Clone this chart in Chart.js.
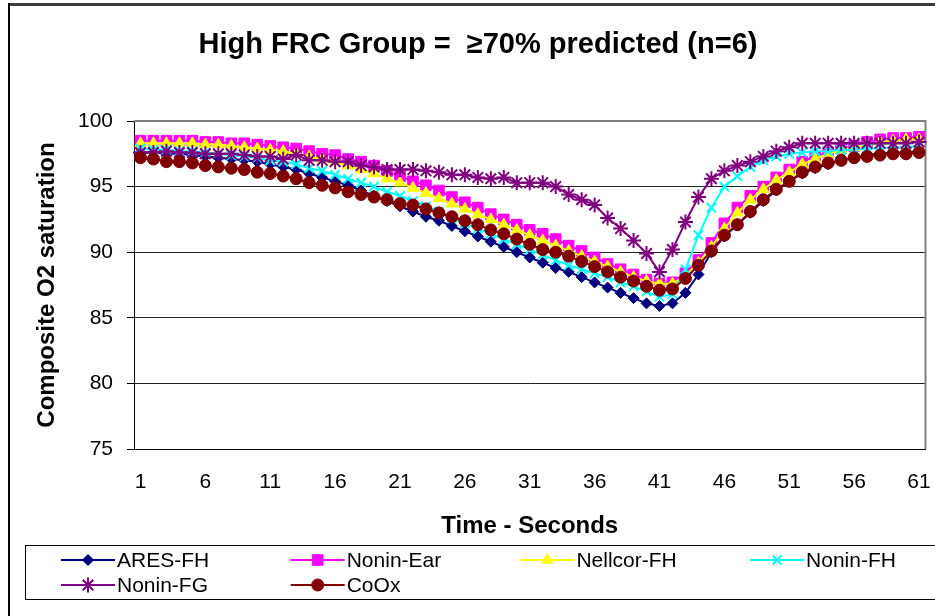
<!DOCTYPE html>
<html>
<head>
<meta charset="utf-8">
<script src="https://cdn.jsdelivr.net/npm/chart.js@4.4.1/dist/chart.umd.min.js"></script>
<style>
  html, body { margin: 0; padding: 0; background: #fff; }
  #wrap { position: relative; width: 935px; height: 616px; }
</style>
</head>
<body>
<div id="wrap"><canvas id="chart"></canvas></div>
<script>
// time axis, 1..61 s
const seconds = Array.from({ length: 61 }, (_, i) => String(i + 1))
const yTicks = [75, 80, 85, 90, 95, 100]
const chartTitle = "High FRC Group =  \u226570% predicted (n=6)"

const aresFH = [
	97.6, 97.6, 97.5, 97.5, 97.4, 97.3, 97.2, 97.1, 97.0, 96.9,
	96.7, 96.5, 96.3, 96.0, 95.7, 95.4, 95.1, 94.7, 94.3, 93.9,
	93.5, 93.1, 92.7, 92.4, 92.0, 91.6, 91.2, 90.8, 90.4, 90.0,
	89.6, 89.2, 88.8, 88.5, 88.1, 87.7, 87.3, 86.9, 86.5, 86.1,
	85.9, 86.1, 86.9, 88.3, 90.0, 91.2, 92.1, 93.0, 93.9, 94.7,
	95.4, 96.0, 96.4, 96.7, 97.0, 97.2, 97.4, 97.5, 97.6, 97.6, 97.7,
]
const noninEar = [
	98.5, 98.5, 98.5, 98.5, 98.5, 98.4, 98.4, 98.3, 98.3, 98.2,
	98.1, 98.0, 97.9, 97.7, 97.5, 97.4, 97.1, 96.9, 96.6, 96.2,
	95.8, 95.4, 95.1, 94.7, 94.2, 93.8, 93.4, 92.9, 92.5, 92.1,
	91.7, 91.4, 91.0, 90.5, 90.1, 89.6, 89.1, 88.7, 88.3, 87.9,
	87.6, 87.7, 88.4, 89.4, 90.7, 92.2, 93.4, 94.3, 95.0, 95.7,
	96.3, 96.9, 97.3, 97.6, 97.9, 98.1, 98.4, 98.6, 98.7, 98.7, 98.8,
]
const nellcorFH = [
	98.3, 98.3, 98.3, 98.3, 98.3, 98.2, 98.2, 98.1, 98.0, 97.9,
	97.8, 97.7, 97.5, 97.3, 97.1, 96.9, 96.6, 96.3, 96.0, 95.6,
	95.3, 94.9, 94.5, 94.1, 93.7, 93.3, 92.9, 92.5, 92.1, 91.7,
	91.3, 90.9, 90.5, 90.1, 89.7, 89.3, 88.9, 88.5, 88.1, 87.8,
	87.6, 87.6, 88.2, 89.2, 90.4, 91.8, 93.0, 94.0, 94.8, 95.5,
	96.1, 96.7, 97.1, 97.5, 97.8, 98.0, 98.2, 98.4, 98.5, 98.6, 98.6,
]
const noninFH = [
	97.9, 97.8, 97.8, 97.7, 97.7, 97.6, 97.5, 97.4, 97.3, 97.2,
	97.0, 96.9, 96.7, 96.4, 96.2, 95.9, 95.6, 95.3, 95.0, 94.6,
	94.3, 93.9, 93.5, 93.1, 92.6, 92.2, 91.8, 91.4, 91.0, 90.6,
	90.2, 89.8, 89.4, 89.0, 88.7, 88.4, 88.1, 87.7, 87.4, 87.0,
	86.6, 86.8, 88.7, 91.3, 93.4, 95.0, 95.8, 96.5, 97.0, 97.3,
	97.5, 97.6, 97.7, 97.7, 97.8, 97.8, 97.9, 97.9, 98.0, 98.0, 98.1,
]
const noninFG = [
	97.6, 97.6, 97.7, 97.6, 97.6, 97.5, 97.5, 97.5, 97.4, 97.3,
	97.3, 97.1, 97.4, 97.0, 97.0, 96.9, 96.9, 96.6, 96.5, 96.3,
	96.3, 96.3, 96.2, 96.1, 95.9, 95.9, 95.7, 95.6, 95.7, 95.3,
	95.3, 95.3, 95.0, 94.4, 94.0, 93.6, 92.6, 91.8, 90.9, 89.9,
	88.5, 90.2, 92.3, 94.2, 95.6, 96.2, 96.6, 96.9, 97.3, 97.7,
	98.0, 98.3, 98.3, 98.3, 98.3, 98.3, 98.3, 98.3, 98.3, 98.3, 98.4,
]
const coOx = [
	97.2, 97.1, 96.9, 96.9, 96.8, 96.6, 96.5, 96.4, 96.3, 96.1,
	96.0, 95.8, 95.6, 95.3, 95.1, 94.9, 94.6, 94.4, 94.2, 94.0,
	93.7, 93.6, 93.3, 93.0, 92.7, 92.4, 92.1, 91.7, 91.4, 91.0,
	90.6, 90.2, 90.0, 89.7, 89.3, 88.9, 88.5, 88.1, 87.8, 87.4,
	87.1, 87.2, 88.0, 89.0, 90.1, 91.3, 92.1, 93.1, 94.0, 94.8,
	95.4, 96.1, 96.5, 96.8, 97.0, 97.2, 97.3, 97.4, 97.5, 97.5, 97.6,
]

const FONT = "'Liberation Sans', Arial, sans-serif"

const series = (label, data, color, pointStyle, radius, order) => ({
	label,
	data,
	borderColor: color,
	backgroundColor: color,
	borderWidth: 2,
	pointStyle,
	pointRadius: radius,
	pointBorderWidth: pointStyle === "crossRot" || pointStyle === "star" ? 2 : 1,
	pointBackgroundColor: color,
	pointBorderColor: color,
	tension: 0,
	order,
})

// outer frame, title, plot area border (grey top / right)
const frame = {
	id: "frame",
	beforeDraw(chart) {
		const { ctx, width, height } = chart
		ctx.save()
		ctx.fillStyle = "#fff"
		ctx.fillRect(0, 0, width, height)
		ctx.fillStyle = "#3c3c3c"
		ctx.fillRect(8, 3, width - 8, 3)
		ctx.fillStyle = "#000"
		ctx.fillRect(8, 3, 2, height - 3)
		ctx.font = "bold 29px " + FONT
		ctx.textAlign = "center"
		ctx.textBaseline = "middle"
		ctx.fillText(chartTitle, 478, 45)
		ctx.restore()
	},
	beforeDatasetsDraw(chart) {
		const { ctx, chartArea: a } = chart
		ctx.save()
		ctx.strokeStyle = "#808080"
		ctx.lineWidth = 2
		ctx.beginPath()
		ctx.moveTo(a.left, a.top)
		ctx.lineTo(a.right, a.top)
		ctx.lineTo(a.right, a.bottom)
		ctx.stroke()
		ctx.restore()
	},
}

// boxed legend, 4 columns
const boxLegend = {
	id: "boxLegend",
	afterDraw(chart) {
		const { ctx } = chart
		const sets = chart.data.datasets
		ctx.save()
		ctx.strokeStyle = "#000"
		ctx.lineWidth = 1
		ctx.strokeRect(25.5, 545.5, 920, 54)
		ctx.font = "21px " + FONT
		ctx.textBaseline = "middle"
		sets.forEach((ds, i) => {
			const col = i % 4
			const row = Math.floor(i / 4)
			const x = 61 + col * 229.7
			const y = 560 + row * 25
			ctx.strokeStyle = ds.borderColor
			ctx.fillStyle = ds.borderColor
			ctx.lineWidth = 2
			ctx.beginPath()
			ctx.moveTo(x, y)
			ctx.lineTo(x + 54, y)
			ctx.stroke()
			ctx.lineWidth = ds.pointBorderWidth
			Chart.helpers.drawPoint(
				ctx,
				{ pointStyle: ds.pointStyle, radius: ds.pointRadius, borderWidth: ds.pointBorderWidth, rotation: 0 },
				x + 27,
				y
			)
			ctx.fillStyle = "#000"
			ctx.fillText(ds.label, x + 56, y + 1)
		})
		ctx.restore()
	},
}

new Chart(document.getElementById("chart"), {
	type: "line",
	data: {
		labels: seconds,
		datasets: [
			series("ARES-FH", aresFH, "#000080", "rectRot", 5.5, 6),
			series("Nonin-Ear", noninEar, "#ff00ff", "rect", 7.5, 5),
			series("Nellcor-FH", nellcorFH, "#ffff00", "triangle", 6.5, 4),
			series("Nonin-FH", noninFH, "#00ffff", "crossRot", 6.5, 3),
			series("Nonin-FG", noninFG, "#800080", "star", 7.5, 2),
			series("CoOx", coOx, "#800000", "circle", 6, 1),
		],
	},
	options: {
		responsive: true,
		maintainAspectRatio: false,
		animation: false,
		devicePixelRatio: 1,
		layout: { padding: { left: 0, right: 8, top: 121, bottom: 72 } },
		plugins: {
			legend: { display: false },
			tooltip: { enabled: false },
			title: { display: false },
		},
		scales: {
			x: {
				type: "category",
				offset: true,
				grid: { display: false, drawTicks: false },
				border: { display: true, color: "#000", width: 1 },
				ticks: {
					autoSkip: false,
					maxRotation: 0,
					minRotation: 0,
					padding: 21,
					color: "#000",
					font: { family: FONT, size: 21 },
					callback: function (value, index) {
						return index % 5 === 0 ? this.getLabelForValue(value) : ""
					},
				},
				title: {
					display: true,
					text: "Time - Seconds",
					color: "#000",
					font: { family: FONT, size: 24, weight: "bold", lineHeight: 1.2 },
					padding: { top: 0, bottom: 3 },
				},
				afterFit(scale) {
					scale.height = 95
					scale.paddingLeft = 0
					scale.paddingRight = 0
				},
			},
			y: {
				min: yTicks[0],
				max: yTicks[yTicks.length - 1],
				afterBuildTicks(scale) {
					scale.ticks = yTicks.map((v) => ({ value: v }))
				},
				grid: {
					color: (c) => (c.tick && c.tick.value === 100 ? "rgba(0,0,0,0)" : "#222"),
					lineWidth: 1,
					drawTicks: true,
					tickLength: 7,
					tickColor: "#000",
				},
				border: { display: true, color: "#000", width: 1 },
				ticks: {
					padding: 14,
					color: "#000",
					font: { family: FONT, size: 21 },
				},
				title: {
					display: true,
					text: "Composite O2 saturation",
					color: "#000",
					font: { family: FONT, size: 24, weight: "bold", lineHeight: 1.2 },
					padding: { top: 33, bottom: 0 },
				},
				afterFit(scale) {
					scale.width = 134
					scale.paddingTop = 0
					scale.paddingBottom = 0
				},
			},
		},
	},
	plugins: [frame, boxLegend],
})
</script>
</body>
</html>
